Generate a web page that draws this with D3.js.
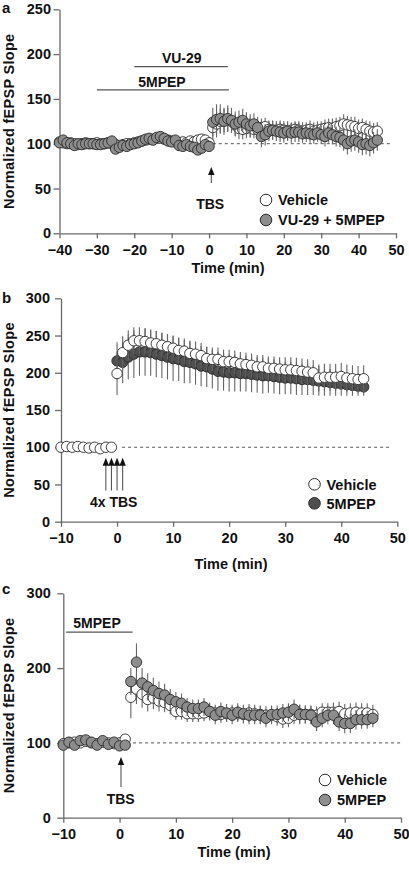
<!DOCTYPE html>
<html><head><meta charset="utf-8">
<script src="https://cdn.jsdelivr.net/npm/d3@7"></script>
<style>body{margin:0;background:#fff}svg{display:block}</style>
</head><body><svg id="c" width="409" height="869"></svg>
<script>
// ---------- Panel a data ----------
const aTime = [-40,-39,-38,-37,-36,-35,-34,-33,-32,-31,-30,-29,-28,-27,-26,-25,-24,-23,-22,-21,-20,-19,-18,-17,-16,-15,-14,-13,-12,-11,-10,-9,-8,-7,-6,-5,-4,-3,-2,-1,0,
 1,2,3,4,5,6,7,8,9,10,11,12,13,14,15,16,17,18,19,20,21,22,23,24,25,26,27,28,29,30,31,32,33,34,35,36,37,38,39,40,41,42,43,44,45];
const aVehicle = [102,101,100,101,100,99,100,101,100,100,101,100,100,101,100,99,98,99,100,100,101,102,103,104,105,105,106,106,105,104,103,102,101,102,101,103,102,104,105,104,101,
 118,122,125,126,127,125,121,117,116,117,118,116,116,118,119,116,115,115,116,115,114,115,116,115,114,115,116,114,115,116,117,118,117,119,120,122,121,120,119,117,118,116,114,113,114];
const aVehicleErr = [3,3,4,3,3,4,3,3,3,4,3,3,4,3,3,4,4,3,3,4,3,3,4,3,3,4,3,4,3,3,4,3,4,3,4,4,3,4,4,3,4,
 14,15,14,13,13,12,12,12,11,11,11,10,10,10,10,10,10,9,10,10,10,9,9,10,10,9,10,10,10,9,10,10,11,10,10,11,10,10,11,10,10,10,11,10,10];
const aDrug = [101,104,101,100,98,100,99,100,100,100,99,99,100,101,103,94,96,98,97,99,100,101,103,105,106,104,107,108,106,103,102,104,98,97,99,97,96,93,95,99,97,
 124,127,128,125,128,126,122,124,126,122,120,122,118,108,110,114,115,114,113,112,114,112,113,113,111,112,111,110,112,110,108,112,110,108,107,104,100,103,104,102,99,100,98,101,104];
const aDrugErr = [4,4,4,4,4,4,4,4,4,4,4,4,4,4,4,5,4,4,4,4,4,4,4,4,4,4,4,4,4,4,4,4,4,4,4,4,4,5,4,4,4,
 16,17,16,15,15,14,14,13,13,13,13,12,12,12,12,11,11,11,11,11,11,11,11,11,10,10,10,10,10,10,11,11,11,11,11,12,12,12,12,12,12,12,12,12,12];
const aXTicks = [-40,-30,-20,-10,0,10,20,30,40,50];
const aYTicks = [0,50,100,150,200,250];

// ---------- Panel b data ----------
const bTime = [-10,-9,-8,-7,-6,-5,-4,-3,-2,-1,
 0,1,2,3,4,5,6,7,8,9,10,11,12,13,14,15,16,17,18,19,20,21,22,23,24,25,26,27,28,29,30,31,32,33,34,35,36,37,38,39,40,41,42,43,44];
const bVehicle = [100,101,100,101,100,99,100,98,100,100,
 199,227,237,243,243,242,240,239,237,235,233,230,229,226,225,223,219,218,218,215,215,214,212,211,210,208,208,206,206,205,204,204,203,202,201,200,193,194,194,194,195,193,192,191,192];
const bVehicleErr = [2,2,2,2,2,2,2,2,2,2,
 29,22,20,18,18,17,17,17,17,17,17,17,17,17,17,17,16,16,16,16,16,16,16,16,16,16,16,16,16,16,17,17,17,17,17,17,18,18,18,18,18,18,18,18,18];
const bDrug = [null,null,null,null,null,null,null,null,null,null,
 216,214,221,225,228,228,227,225,223,221,219,218,215,214,212,209,208,205,202,201,200,200,199,199,198,197,196,196,195,194,193,193,192,191,191,190,189,188,187,186,185,184,183,182,181];
const bDrugErr = [0,0,0,0,0,0,0,0,0,0,
 25,28,30,32,32,32,31,31,30,30,30,29,29,28,28,27,27,26,26,25,25,25,24,24,24,24,24,23,23,23,22,22,22,21,21,20,20,19,18,17,16,15,14,13,12];
const bXTicks = [-10,0,10,20,30,40,50];
const bYTicks = [0,50,100,150,200,250,300];

// ---------- Panel c data ----------
const cTime = [-10,-9,-8,-7,-6,-5,-4,-3,-2,-1,0,1,
 2,3,4,5,6,7,8,9,10,11,12,13,14,15,16,17,18,19,20,21,22,23,24,25,26,27,28,29,30,31,32,33,34,35,36,37,38,39,40,41,42,43,44,45];
const cVehicle = [99,100,101,100,102,100,99,101,100,99,100,105,
 161,172,165,158,160,156,154,150,142,142,139,139,139,140,142,140,138,139,140,139,138,140,139,138,137,137,135,132,133,137,139,138,138,137,141,141,141,142,139,140,141,140,140,138];
const cVehicleErr = [3,3,3,3,3,3,3,3,3,3,3,3,
 28,20,18,16,15,14,13,12,11,11,11,11,11,11,11,11,11,11,11,11,12,12,12,12,12,12,12,12,12,12,12,12,12,12,12,12,13,13,13,13,13,13,13,13,13,13];
const cDrug = [97,101,97,103,104,101,97,103,98,101,96,97,
 182,208,180,175,170,166,164,158,155,153,148,146,146,148,142,137,142,140,137,141,139,137,137,137,133,138,138,140,141,145,138,138,137,128,133,137,137,128,126,126,131,131,131,133];
const cDrugErr = [3,3,3,3,3,3,3,3,3,3,3,3,
 18,25,20,18,17,16,15,14,13,13,12,12,12,12,12,12,12,12,12,12,12,12,12,12,12,12,12,12,12,13,13,12,12,12,12,12,12,12,13,13,13,12,12,12];
const cXTicks = [-10,0,10,20,30,40,50];
const cYTicks = [0,100,200,300];

// ---------- drawing ----------
const FONT = '"Liberation Sans", Arial, Helvetica, sans-serif';
const svg = d3.select('#c');
svg.append('rect').attr('width',409).attr('height',869).attr('fill','#fff');
const AX = '#6a6a6a';

function drawPanel(p){
  const x = d3.scaleLinear().domain(p.xDomain).range(p.xRange);
  const y = d3.scaleLinear().domain(p.yDomain).range(p.yRange);
  const g = svg.append('g');

  const ya = g.append('g').attr('transform',`translate(${p.xRange[0]},0)`)
    .call(d3.axisLeft(y).tickValues(p.yTicks).tickSize(6).tickPadding(p.yPad).tickSizeOuter(0));
  const xa = g.append('g').attr('transform',`translate(0,${p.yRange[0]})`)
    .call(d3.axisBottom(x).tickValues(p.xTicks).tickSize(5).tickPadding(6.5).tickSizeOuter(0));
  [ya,xa].forEach(a=>{
    a.select('.domain').attr('stroke',AX).attr('stroke-width',1.3);
    a.selectAll('.tick line').attr('stroke',AX).attr('stroke-width',1.3);
    a.selectAll('.tick text').attr('fill','#111').style('font-family',FONT)
      .style('font-weight','bold').style('font-size','14.5px');
  });

  g.append('line').attr('x1',x(p.dash[0])).attr('x2',x(p.dash[1]))
    .attr('y1',y(100)).attr('y2',y(100)).attr('stroke','#555').attr('stroke-width',1)
    .attr('stroke-dasharray','3,3');

  p.series.forEach(s=>{
    const pts = p.time.map((t,i)=>({t, v:s.vals[i], e:s.errs[i]})).filter(d=>d.v!==null);
    g.append('g').selectAll('line').data(pts).join('line')
      .attr('x1',d=>x(d.t)).attr('x2',d=>x(d.t))
      .attr('y1',d=>y(d.v-d.e)).attr('y2',d=>y(d.v+d.e))
      .attr('stroke','#666').attr('stroke-width',1.1);
    g.append('g').selectAll('circle').data(pts).join('circle')
      .attr('cx',d=>x(d.t)).attr('cy',d=>y(d.v)).attr('r',5.2)
      .attr('fill',s.fill).attr('stroke','#2a2a2a').attr('stroke-width',0.9);
  });

  p.arrows.forEach(a=>{
    const ax=x(a.t), yb=y(a.from), yt=y(a.to);
    g.append('line').attr('x1',ax).attr('x2',ax).attr('y1',yb).attr('y2',yt+6)
      .attr('stroke','#555').attr('stroke-width',1.1);
    g.append('path').attr('d',`M${ax},${yt} L${ax-3.2},${yt+8} L${ax+3.2},${yt+8} Z`).attr('fill','#111');
  });
  if(p.arrowLabel){
    g.append('text').attr('x',x(p.arrowLabel.t)).attr('y',y(p.arrowLabel.v))
      .attr('text-anchor','middle').attr('dy','0.36em').text(p.arrowLabel.text)
      .style('font-family',FONT).style('font-weight','bold').style('font-size','14px').attr('fill','#111');
  }

  p.bars.forEach(b=>{
    g.append('line').attr('x1',x(b.t0)).attr('x2',x(b.t1)).attr('y1',y(b.v)).attr('y2',y(b.v))
      .attr('stroke','#555').attr('stroke-width',1.2);
    g.append('text').attr('x',x(b.lt)).attr('y',y(b.lv)).attr('dy','0.36em').attr('text-anchor','middle')
      .text(b.label).style('font-family',FONT).style('font-weight','bold').style('font-size','14px').attr('fill','#111');
  });

  p.legend.forEach((l,i)=>{
    const ly = p.legPos[1] + i*p.legGap;
    g.append('circle').attr('cx',p.legPos[0]).attr('cy',ly).attr('r',5.8)
      .attr('fill',l.fill).attr('stroke','#2a2a2a').attr('stroke-width',1);
    g.append('text').attr('x',p.legPos[0]+12).attr('y',ly).attr('dy','0.36em').text(l.text)
      .style('font-family',FONT).style('font-weight','bold').style('font-size','14.5px').attr('fill','#111');
  });

  g.append('text').attr('x',p.xTitle[0]).attr('y',p.xTitle[1]).attr('text-anchor','middle')
    .text('Time (min)').style('font-family',FONT).style('font-weight','bold').style('font-size','14.5px').attr('fill','#111');
  const yc = (p.yRange[0]+p.yRange[1])/2;
  g.append('text').attr('transform',`translate(13.5,${yc}) rotate(-90)`).attr('text-anchor','middle')
    .text('Normalized fEPSP Slope').style('font-family',FONT).style('font-weight','bold')
    .style('font-size','14.5px').style('letter-spacing','0.3px').attr('fill','#111');
  g.append('text').attr('x',2).attr('y',p.letterY).text(p.letter)
    .style('font-family',FONT).style('font-weight','bold').style('font-size','15px').attr('fill','#111');
}

const GRAY='#8c8c8c', DARK='#4f4f4f', WHITE='#ffffff';

drawPanel({
  xDomain:[-40,50], yDomain:[0,250], xRange:[59.5,396], yRange:[233.3,9.3],
  xTicks:aXTicks, yTicks:aYTicks, yPad:2.5, time:aTime, dash:[1,49],
  series:[{vals:aVehicle, errs:aVehicleErr, fill:WHITE},{vals:aDrug, errs:aDrugErr, fill:GRAY}],
  arrows:[{t:0.6, from:56, to:74}], arrowLabel:{t:0.3, v:33, text:'TBS'},
  bars:[{t0:-20,t1:5,v:186,label:'VU-29',lt:-7.3,lv:196},{t0:-30,t1:5.3,v:160,label:'5MPEP',lt:-12.6,lv:169}],
  legend:[{fill:WHITE,text:'Vehicle'},{fill:GRAY,text:'VU-29 + 5MPEP'}], legPos:[266,200], legGap:20,
  xTitle:[228,273], letter:'a', letterY:13
});

drawPanel({
  xDomain:[-10,50], yDomain:[0,300], xRange:[61,397.3], yRange:[521.7,298.3],
  xTicks:bXTicks, yTicks:bYTicks, yPad:5, time:bTime, dash:[0.9,49],
  series:[{vals:bDrug, errs:bDrugErr, fill:DARK},{vals:bVehicle, errs:bVehicleErr, fill:WHITE}],
  arrows:[{t:-2,from:42,to:86},{t:-1,from:42,to:86},{t:0,from:42,to:86},{t:1,from:42,to:86}],
  arrowLabel:{t:-0.6, v:26, text:'4x TBS'},
  bars:[],
  legend:[{fill:WHITE,text:'Vehicle'},{fill:DARK,text:'5MPEP'}], legPos:[314.5,484.3], legGap:19,
  xTitle:[231,569], letter:'b', letterY:303
});

drawPanel({
  xDomain:[-10,50], yDomain:[0,300], xRange:[63.3,401], yRange:[817.7,593.3],
  xTicks:cXTicks, yTicks:cYTicks, yPad:6.5, time:cTime, dash:[2.4,50],
  series:[{vals:cVehicle, errs:cVehicleErr, fill:WHITE},{vals:cDrug, errs:cDrugErr, fill:GRAY}],
  arrows:[{t:0.25,from:41,to:81}], arrowLabel:{t:0.2, v:25, text:'TBS'},
  bars:[{t0:-9.5,t1:2.3,v:248,label:'5MPEP',lt:-4,lv:261}],
  legend:[{fill:WHITE,text:'Vehicle'},{fill:GRAY,text:'5MPEP'}], legPos:[325,780], legGap:20,
  xTitle:[234,857], letter:'c', letterY:594
});
</script></body></html>
